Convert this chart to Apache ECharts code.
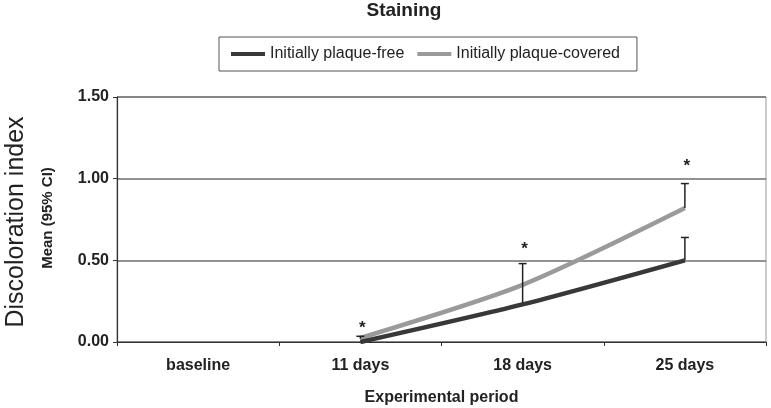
<!DOCTYPE html>
<html>
<head>
<meta charset="utf-8">
<script src="https://cdn.jsdelivr.net/npm/echarts@6/dist/echarts.min.js"></script>
<style>
  html, body { margin: 0; padding: 0; background: #fff; }
  #chart { width: 771px; height: 408px; }
</style>
</head>
<body>
<div id="chart"></div>
<script>
// 横轴分类
var categories = ['baseline', '11 days', '18 days', '25 days'];
// 两组均值 (baseline 无数据)
var plaqueFree = [null, 0.0, 0.23, 0.50];
var plaqueCovered = [null, 0.025, 0.35, 0.82];
// 误差线 [分类序号, 下端, 上端]
var errorBars = [[1, 0.02, 0.035], [2, 0.24, 0.48], [3, 0.82, 0.97], [3, 0.50, 0.64]];
// 显著性星号 [分类序号, 位置]
var stars = [[1, 0.11], [2, 0.59], [3, 1.10]];
var yTicks = [0, 0.5, 1.0, 1.5];

var font = "'Liberation Sans', Arial, sans-serif";
var myChart = echarts.init(document.getElementById('chart'));
var option = {
    animation: false,
    color: ['#383838', '#9a9a9a'],
    textStyle: { fontFamily: font },
    graphic: [
        {
            type: 'text', x: 404, y: 11,
            style: { text: 'Staining', font: 'bold 19px ' + font, fill: '#222', textAlign: 'center', textVerticalAlign: 'middle' }
        },
        {
            type: 'text', x: 16, y: 222, rotation: Math.PI / 2,
            style: { text: 'Discoloration index', font: '25px ' + font, fill: '#222', textAlign: 'center', textVerticalAlign: 'middle' }
        },
        {
            type: 'text', x: 48, y: 218, rotation: Math.PI / 2,
            style: { text: 'Mean (95% CI)', font: 'bold 15px ' + font, fill: '#222', textAlign: 'center', textVerticalAlign: 'middle' }
        }
    ],
    legend: {
        left: 219,
        top: 37,
        padding: [9, 17, 9, 12],
        itemGap: 13,
        itemWidth: 34,
        itemHeight: 4,
        icon: 'rect',
        borderColor: '#555',
        borderWidth: 1,
        backgroundColor: '#fff',
        textStyle: { fontSize: 16, color: '#222', fontFamily: font },
        data: ['Initially plaque-free', 'Initially plaque-covered']
    },
    grid: {
        left: 117,
        right: 5,
        top: 97,
        bottom: 66,
        outerBoundsMode: 'none',
        show: true,
        borderColor: '#999',
        borderWidth: 1
    },
    xAxis: {
        type: 'category',
        data: categories,
        boundaryGap: true,
        axisLine: { lineStyle: { color: '#333', width: 1.2 } },
        axisTick: { show: true, length: 4, lineStyle: { color: '#333' } },
        axisLabel: { margin: 16, fontSize: 16, fontWeight: 'bold', color: '#222', fontFamily: font },
        name: 'Experimental period',
        nameLocation: 'middle',
        nameGap: 48,
        nameTextStyle: { fontSize: 16, fontWeight: 'bold', color: '#222', fontFamily: font }
    },
    yAxis: {
        type: 'value',
        min: yTicks[0],
        max: yTicks[yTicks.length - 1],
        interval: 0.5,
        axisLine: { show: true, lineStyle: { color: '#333', width: 1.2 } },
        axisTick: { show: true, length: 4, lineStyle: { color: '#333' } },
        axisLabel: {
            margin: 8, fontSize: 16, fontWeight: 'bold', color: '#222', fontFamily: font,
            formatter: function (v) { return v.toFixed(2); }
        },
        splitLine: { lineStyle: { color: '#6e6e6e', width: 1.5 } }
    },
    series: [
        {
            name: 'Initially plaque-free',
            type: 'line',
            data: plaqueFree,
            smooth: 0.25,
            symbol: 'none',
            lineStyle: { width: 4.5, color: '#383838' },
            z: 3
        },
        {
            name: 'Initially plaque-covered',
            type: 'line',
            data: plaqueCovered,
            smooth: 0.25,
            symbol: 'none',
            lineStyle: { width: 4.5, color: '#9a9a9a' },
            z: 2
        },
        {
            // 误差线
            type: 'custom',
            data: errorBars,
            z: 4,
            renderItem: function (params, api) {
                var lo = api.coord([api.value(0), api.value(1)]);
                var hi = api.coord([api.value(0), api.value(2)]);
                var style = { stroke: '#222', lineWidth: 1.5 };
                return {
                    type: 'group',
                    children: [
                        { type: 'line', shape: { x1: lo[0], y1: lo[1], x2: hi[0], y2: hi[1] }, style: style },
                        { type: 'line', shape: { x1: hi[0] - 4, y1: hi[1], x2: hi[0] + 4, y2: hi[1] }, style: style }
                    ]
                };
            }
        },
        {
            // 星号
            type: 'custom',
            data: stars,
            z: 4,
            renderItem: function (params, api) {
                var p = api.coord([api.value(0), api.value(1)]);
                return {
                    type: 'text',
                    x: p[0] + 2,
                    y: p[1] + 4,
                    style: { text: '*', font: 'bold 17px ' + font, fill: '#222', textAlign: 'center', textVerticalAlign: 'middle' }
                };
            }
        }
    ]
};
option && myChart.setOption(option);
</script>
</body>
</html>
